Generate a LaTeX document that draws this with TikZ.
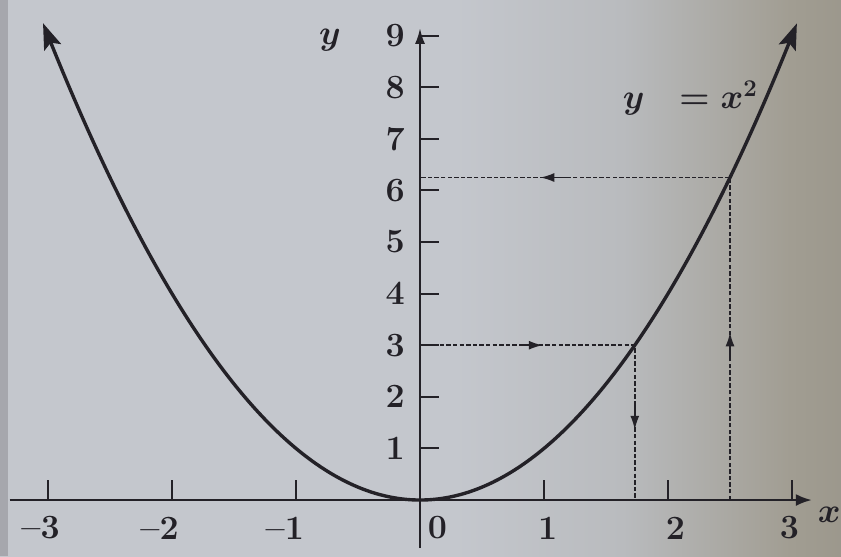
\documentclass[tikz,border=0pt]{standalone}
\usetikzlibrary{arrows.meta}
\definecolor{bgA}{HTML}{C4C7CD}
\definecolor{bgB}{HTML}{B9BBBE}
\definecolor{bgC}{HTML}{A19D92}
\definecolor{bgD}{HTML}{8A8578}
\definecolor{bgE}{HTML}{847E71}
\definecolor{ink}{HTML}{232127}
\definecolor{stripe}{HTML}{A6A7AD}
\pgfdeclarehorizontalshading{photobg}{100bp}{color(0bp)=(bgA); color(52bp)=(bgA); color(62bp)=(bgB); color(72bp)=(bgC); color(86bp)=(bgD); color(100bp)=(bgE)}
\tikzset{
  curve/.style={line width=1.7pt, draw=ink, {Stealth[length=13pt,width=9pt,inset=2.5pt]}-{Stealth[length=13pt,width=9pt,inset=2.5pt]}},
  axis/.style={line width=1.2pt, draw=ink},
  guide/.style={line width=0.85pt, draw=ink, dash pattern=on 2.2pt off 1.1pt},
  guidetip/.style={line width=0.85pt, draw=ink, -{Latex[length=7pt,width=4.5pt]}},
  tick/.style={line width=1pt, draw=ink},
  lab/.style={text=ink, font=\fontsize{17}{20}\selectfont\bfseries\boldmath, inner sep=0pt}
}
\begin{document}
\begin{tikzpicture}[x=62pt, y=25.8pt]
\useasboundingbox (-3.387,-1.085) rectangle (3.395,9.690);
\shade[shading=photobg] (-3.387,-1.085) rectangle (3.395,9.690);
\fill[stripe] (-3.387,-1.085) rectangle (-3.325,9.690);
% axes
\coordinate (xL) at (-3.31,0);
\coordinate (xR) at (3.16,0);
\coordinate (yB) at (0,-0.93);
\coordinate (yT) at (0,9.15);
\draw[axis, -{Latex[length=8pt,width=6pt]}] (xL) -- (xR);
\draw[axis, -{Latex[length=8pt,width=5pt]}] (yB) -- (yT);
\node[lab] (xlab) at (3.30,-0.28) {$x$};
\node[lab] (ylab) at (-0.726,8.91) {$y$};
% ticks
\foreach \i in {-3,-2,-1,1,2,3} \draw[tick] (\i,0) -- ++(0,0.38);
\foreach \j in {1,...,9} \draw[tick] (0,\j) -- ++(0.15,0);
% x labels
\node[lab] (xm3) at (-3.06,-0.54) {--3};
\node[lab] (xm2) at (-2.10,-0.54) {--2};
\node[lab] (xm1) at (-1.09,-0.54) {--1};
\node[lab] (x0) at (0.14,-0.54) {0};
\node[lab] (x1) at (1.03,-0.54) {1};
\node[lab] (x2) at (2.06,-0.54) {2};
\node[lab] (x3) at (2.98,-0.54) {3};
% y labels
\foreach \j in {1,...,9} \node[lab] (y\j) at (-0.2,\j) {\j};
% curve
\draw[curve] plot[domain=-3.04:3.04, samples=120, smooth] (\x,{\x*\x});
\node[lab] (eq) at (2.18,7.79) {$y\ \;=x^{2}$};
% guide lines
\coordinate (Pa) at (1.732,3);
\coordinate (Pb) at (2.5,6.25);
\coordinate (Ya) at (0,3);
\coordinate (Yb) at (0,6.25);
\coordinate (Xa) at (1.732,0);
\coordinate (Xb) at (2.5,0);
\draw[guide] (Ya) -- (Pa) -- (Xa);
\draw[guide] (Xb) -- (Pb) -- (Yb);
\draw[guidetip] (0.80,3) -- (0.99,3);
\draw[guidetip] (1.2,6.25) -- (0.97,6.25);
\draw[guidetip] (1.732,1.9) -- (1.732,1.36);
\draw[guidetip] (2.5,2.7) -- (2.5,3.25);
\end{tikzpicture}
\end{document}
